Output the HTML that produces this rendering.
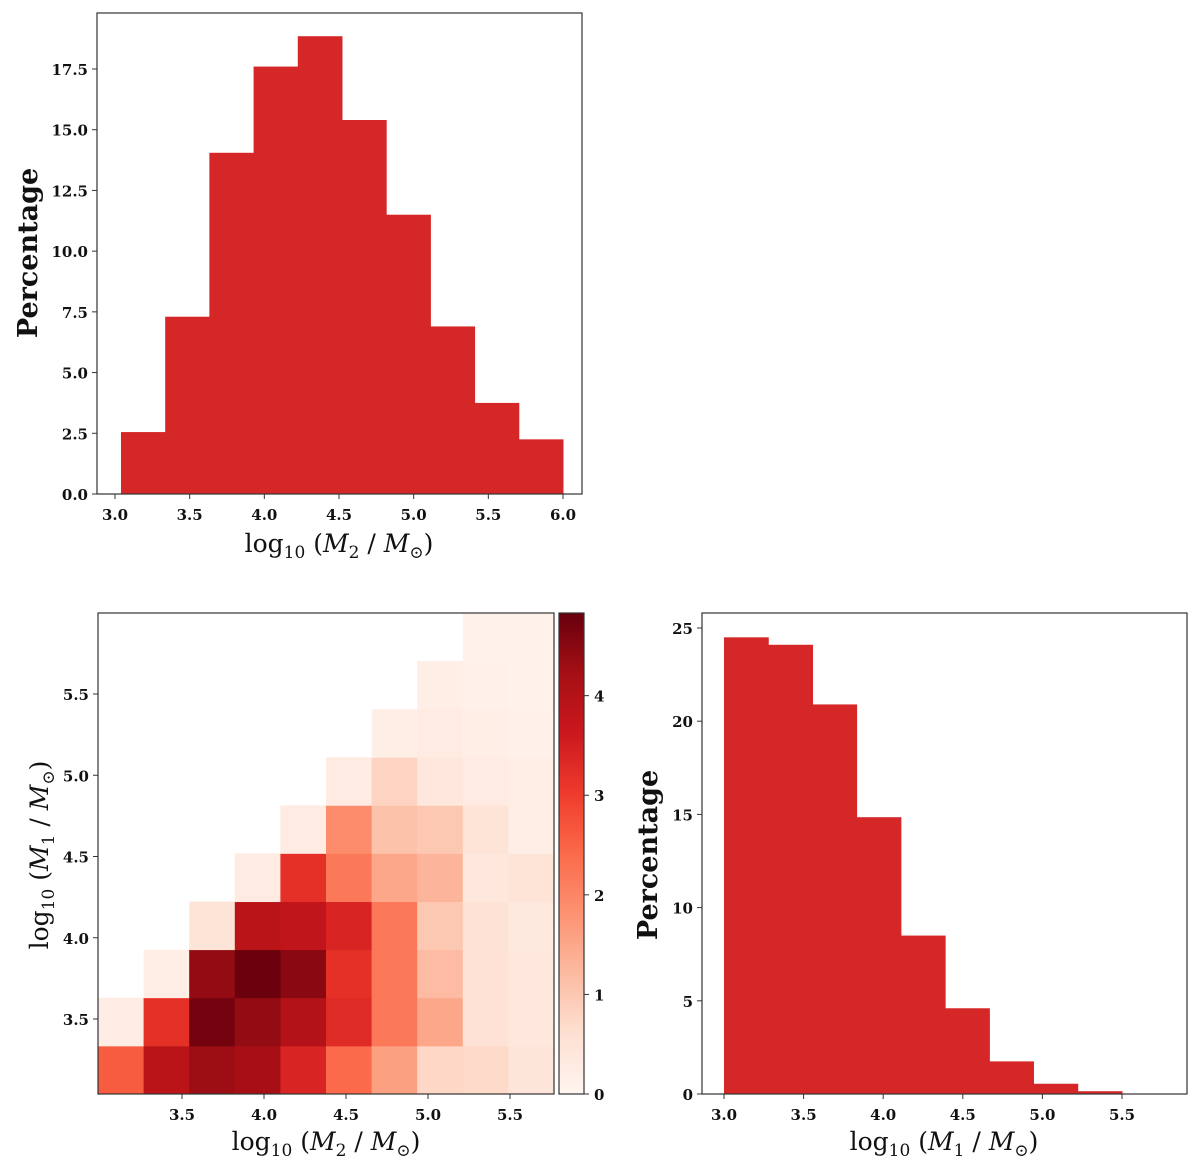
<!DOCTYPE html>
<html><head><meta charset="utf-8"><style>
html,body{margin:0;padding:0;background:#fff;}
svg{display:block;font-family:"DejaVu Serif","Liberation Serif",serif;}
.tick{font-size:15px;font-weight:bold;fill:#111;}
.lab{font-size:25px;fill:#111;}
.ylab{font-size:27px;font-weight:bold;fill:#111;}
</style></head><body>
<svg id="fig" width="1200" height="1172" viewBox="0 0 1200 1172" xmlns="http://www.w3.org/2000/svg">
<g id="g1"></g>
<g id="g2"></g>
<g id="g3"></g>
<g id="g4"></g>
</svg>
<script>
const m2Edges=[3.04,3.336,3.632,3.928,4.224,4.52,4.816,5.112,5.408,5.704,6.0];
const m2Pct=[2.55,7.3,14.05,17.6,18.85,15.4,11.5,6.9,3.75,2.25];
const m2XTicks=[3.0,3.5,4.0,4.5,5.0,5.5,6.0];
const m2YTicks=[0,2.5,5,7.5,10,12.5,15,17.5];
const m1Edges=[3.0,3.278,3.556,3.833,4.111,4.389,4.667,4.944,5.222,5.5];
const m1Pct=[24.5,24.1,20.9,14.85,8.5,4.6,1.75,0.55,0.15];
const m1XTicks=[3.0,3.5,4.0,4.5,5.0,5.5];
const m1YTicks=[0,5,10,15,20,25];
const hxEdges=[2.99,3.268,3.546,3.824,4.102,4.38,4.658,4.936,5.214,5.492,5.77];
const hyEdges=[3.037,3.333,3.63,3.926,4.222,4.519,4.815,5.111,5.407,5.704,6.0];
// rows bottom->top, null = empty
const heat=[
[2.6,3.9,4.3,4.2,3.4,2.4,1.6,0.75,0.7,0.45],
[0.25,3.2,4.7,4.4,4.0,3.3,2.2,1.5,0.55,0.4],
[null,0.2,4.4,4.8,4.5,3.2,2.2,1.2,0.55,0.4],
[null,null,0.5,3.9,3.8,3.4,2.2,1.0,0.55,0.35],
[null,null,null,0.3,3.2,2.2,1.5,1.3,0.4,0.5],
[null,null,null,null,0.3,1.9,1.1,1.0,0.5,0.2],
[null,null,null,null,null,0.3,0.8,0.4,0.3,0.2],
[null,null,null,null,null,null,0.2,0.3,0.2,0.15],
[null,null,null,null,null,null,null,0.2,0.15,0.1],
[null,null,null,null,null,null,null,null,0.1,0.1]];
const hXTicks=[3.5,4.0,4.5,5.0,5.5];
const hYTicks=[3.5,4.0,4.5,5.0,5.5];
const cbTicks=[0,1,2,3,4];
const cbMax=4.83;

const NS="http://www.w3.org/2000/svg";
function mk(p,t,a,txt){const e=document.createElementNS(NS,t);for(const k in a)e.setAttribute(k,a[k]);if(txt!==undefined)e.textContent=txt;p.appendChild(e);return e;}
function lin(d0,d1,r0,r1){return v=>r0+(v-d0)/(d1-d0)*(r1-r0);}
const stops=["#fff5f0","#fee0d2","#fcbba1","#fc9272","#fb6a4a","#ef3b2c","#cb181d","#a50f15","#67000d"];
function hx(c){return [1,3,5].map(i=>parseInt(c.substr(i,2),16));}
function reds(t){t=Math.max(0,Math.min(1,t));const f=t*8,i=Math.min(7,Math.floor(f)),u=f-i;const a=hx(stops[i]),b=hx(stops[i+1]);return "rgb("+a.map((v,k)=>Math.round(v+(b[k]-v)*u)).join(",")+")";}

function axes(g,L,T,R,B,xs,ys,xt,yt,fmtX,fmtY){
  for(const v of xt){const x=xs(v);
    const l=mk(g,"line",{x1:x,x2:x,y1:B,y2:B+5,stroke:"#333","stroke-width":1});
    
    
    const t=mk(g,"text",{x:x,y:B+26,"text-anchor":"middle",class:"tick"},fmtX(v));
    
    }
  for(const v of yt){const y=ys(v);
    const l=mk(g,"line",{x1:L-5,x2:L,y1:y,y2:y,stroke:"#333","stroke-width":1});
    
    
    const t=mk(g,"text",{x:L-9,y:y+6,"text-anchor":"end",class:"tick"},fmtY(v));
    
    }
  const r=mk(g,"rect",{x:L,y:T,width:R-L,height:B-T,fill:"none",stroke:"#333","stroke-width":1.2});
  
  
}
const LAB=sub=>'log<tspan font-size="17" dy="6">10</tspan><tspan dy="-6"> (</tspan><tspan font-style="italic">M</tspan><tspan font-size="17" dy="6">'+sub+'</tspan><tspan dy="-6"> / </tspan><tspan font-style="italic">M</tspan><tspan font-size="17" dy="6">⊙</tspan><tspan dy="-6">)</tspan>';
function xlabel(g,x,y,sub){
  const t=mk(g,"text",{x:x,y:y,"text-anchor":"middle",class:"lab"});
  t.innerHTML=LAB(sub);
  
  
}
const f1=v=>v.toFixed(1), f0=v=>String(v);

// Top histogram
(function(){const g=document.getElementById("g1");
const L=97,T=13,R=582,B=494;const xs=lin(3,6,115,563),ys=lin(0,17.5,494,69);
m2Pct.forEach((v,i)=>{const r=mk(g,"rect",{x:xs(m2Edges[i]),y:ys(v),width:xs(m2Edges[i+1])-xs(m2Edges[i])+0.5,height:ys(0)-ys(v),fill:"#d62728"});
 
 });
axes(g,L,T,R,B,xs,ys,m2XTicks,m2YTicks,f1,f1);
xlabel(g,339,552,"2");
const t=mk(g,"text",{x:0,y:0,"text-anchor":"middle",class:"ylab",transform:"translate(37,253) rotate(-90)"},"Percentage");


})();

// Heatmap
(function(){const g=document.getElementById("g2");
const L=98,T=613,R=554,B=1094;const xs=lin(3.5,5.5,182,510),ys=lin(3.5,5.5,1019,694);
const xe=v=>lin(hxEdges[0],hxEdges[10],L,R)(v), ye=v=>lin(hyEdges[0],hyEdges[10],B,T)(v);
heat.forEach((row,j)=>row.forEach((v,i)=>{if(v===null)return;
 const x0=xe(hxEdges[i]),x1=xe(hxEdges[i+1]),y0=ye(hyEdges[j+1]),y1=ye(hyEdges[j]);
 const r=mk(g,"rect",{x:x0,y:y0,width:x1-x0+0.4,height:y1-y0+0.4,fill:reds(v/cbMax)});
 
 }));
axes(g,L,T,R,B,xs,ys,hXTicks,hYTicks,f1,f1);
xlabel(g,326,1150,"2");
const t=mk(g,"text",{x:0,y:0,"text-anchor":"middle",class:"lab",transform:"translate(48,855) rotate(-90)"});
t.innerHTML=LAB("1");


})();

// Colorbar
(function(){const g=document.getElementById("g3");
const L=559,R=584,T=613,B=1094;const ys=lin(0,cbMax,B,T);
const defs=mk(g,"defs",{});const lg=mk(defs,"linearGradient",{id:"cbg",x1:0,y1:1,x2:0,y2:0});
for(let k=0;k<=8;k++)mk(lg,"stop",{offset:k/8,"stop-color":stops[k]});
const r=mk(g,"rect",{x:L,y:T,width:R-L,height:B-T,fill:"url(#cbg)",stroke:"#333","stroke-width":1.2});


for(const v of cbTicks){const y=ys(v);
 mk(g,"line",{x1:R,x2:R+5,y1:y,y2:y,stroke:"#333"});
 const t=mk(g,"text",{x:R+10,y:y+6,class:"tick"},f0(v));
 
 }
})();

// Right histogram
(function(){const g=document.getElementById("g4");
const L=702,T=613,R=1187,B=1094;const xs=lin(3,5.5,724,1122),ys=lin(0,25,1094,628);
m1Pct.forEach((v,i)=>{const r=mk(g,"rect",{x:xs(m1Edges[i]),y:ys(v),width:xs(m1Edges[i+1])-xs(m1Edges[i])+0.5,height:ys(0)-ys(v),fill:"#d62728"});
 
 });
axes(g,L,T,R,B,xs,ys,m1XTicks,m1YTicks,f1,f0);
xlabel(g,944,1150,"1");
const t=mk(g,"text",{x:0,y:0,"text-anchor":"middle",class:"ylab",transform:"translate(657,855) rotate(-90)"},"Percentage");


})();
</script>
</body></html>
